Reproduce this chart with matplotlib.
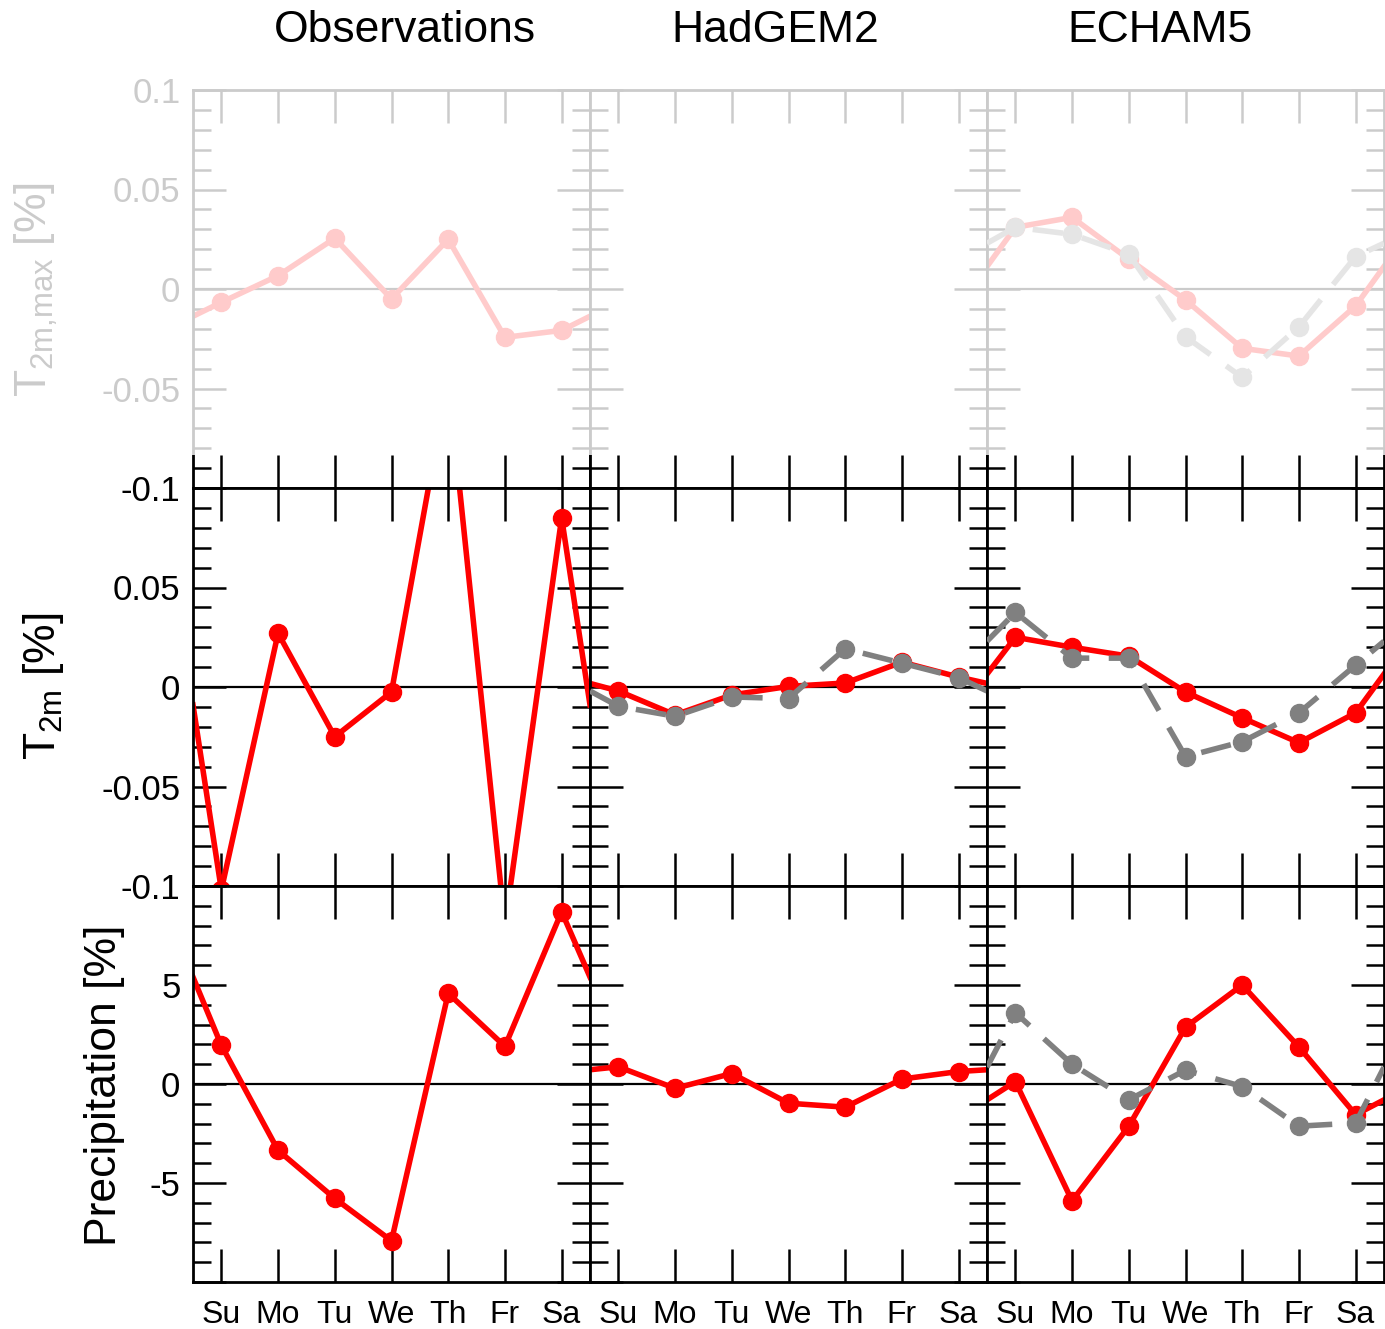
import numpy as np
import matplotlib
matplotlib.use("Agg")
import matplotlib.pyplot as plt
from matplotlib.patches import Rectangle
from matplotlib.ticker import MultipleLocator

plt.rcParams['font.family'] = ['Liberation Sans', 'DejaVu Sans']
plt.rcParams['mathtext.fontset'] = 'custom'
plt.rcParams['mathtext.rm'] = 'Liberation Sans'
plt.rcParams['mathtext.it'] = 'Liberation Sans:italic'

# weekday anomalies, Su..Sa; *_edge = value at the wrap-around (week start / end)
days = ['Su', 'Mo', 'Tu', 'We', 'Th', 'Fr', 'Sa']
columns = ['Observations', 'HadGEM2', 'ECHAM5']

obs_tmax = [-0.0067, 0.0067, 0.0255, -0.005, 0.025, -0.0243, -0.0208]
obs_tmax_edge = -0.0137
ech_tmax = [0.031, 0.036, 0.015, -0.0055, -0.0298, -0.0337, -0.0085]
ech_tmax_edge = 0.0113
ech_tmax_ref = [0.031, 0.0275, 0.0175, -0.024, -0.0444, -0.019, 0.0163]
ech_tmax_ref_edge = 0.023

obs_t2m = [-0.102, 0.027, -0.025, -0.0025, 0.155, -0.12, 0.085]
obs_t2m_edge = -0.009
had_t2m = [-0.002, -0.014, -0.004, 0.0003, 0.002, 0.0125, 0.005]
had_t2m_edge = 0.0018
had_t2m_ref = [-0.0097, -0.0147, -0.005, -0.0058, 0.0192, 0.012, 0.0047]
had_t2m_ref_edge = -0.002
ech_t2m = [0.025, 0.020, 0.0155, -0.0025, -0.0155, -0.028, -0.013]
ech_t2m_edge = 0.0065
ech_t2m_ref = [0.0375, 0.0145, 0.0145, -0.035, -0.0275, -0.013, 0.011]
ech_t2m_ref_edge = 0.023

obs_pr = [1.95, -3.35, -5.78, -7.92, 4.58, 1.9, 8.7]
obs_pr_edge = 5.4
had_pr = [0.87, -0.22, 0.53, -0.97, -1.17, 0.25, 0.63]
had_pr_edge = 0.72
ech_pr = [0.12, -5.9, -2.13, 2.87, 5.0, 1.87, -1.55]
ech_pr_edge = -0.8
ech_pr_ref = [3.6, 1.0, -0.8, 0.7, -0.13, -2.13, -1.97]
ech_pr_ref_edge = 0.85

# (row, col) -> list of (values, edge, is_reference)
panels = {
    (0, 0): [(obs_tmax, obs_tmax_edge, False)],
    (0, 1): [],
    (0, 2): [(ech_tmax, ech_tmax_edge, False), (ech_tmax_ref, ech_tmax_ref_edge, True)],
    (1, 0): [(obs_t2m, obs_t2m_edge, False)],
    (1, 1): [(had_t2m, had_t2m_edge, False), (had_t2m_ref, had_t2m_ref_edge, True)],
    (1, 2): [(ech_t2m, ech_t2m_edge, False), (ech_t2m_ref, ech_t2m_ref_edge, True)],
    (2, 0): [(obs_pr, obs_pr_edge, False)],
    (2, 1): [(had_pr, had_pr_edge, False)],
    (2, 2): [(ech_pr, ech_pr_edge, False), (ech_pr_ref, ech_pr_ref_edge, True)],
}

t_ticks = [-0.1, -0.05, 0, 0.05, 0.1]
p_ticks = [-10, -5, 0, 5, 10]
row_ticks = [t_ticks, t_ticks, p_ticks]
row_ticklabels = [['-0.1', '-0.05', '0', '0.05', '0.1'],
                  ['-0.1', '-0.05', '0', '0.05', ''],
                  ['', '-5', '0', '5', '']]
row_minor = [0.01, 0.01, 1]
row_lim = [(-0.1, 0.1), (-0.1, 0.1), (-10, 10)]

W, H = 1385, 1329
fig = plt.figure(figsize=(W / 100, H / 100), dpi=100)

col_left = [193, 590, 987]
col_w = 397
row_top = [90, 488, 886]
row_h = [398, 398, 396]

xpos = np.arange(7) + 0.5
xfull = np.concatenate([[0], xpos, [7]])

for (r, c), series in panels.items():
    ax = fig.add_axes([col_left[c] / W, 1 - (row_top[r] + row_h[r]) / H,
                       col_w / W, row_h[r] / H])
    ax.set_xlim(0, 7)
    ax.set_ylim(*row_lim[r])
    for sp in ax.spines.values():
        sp.set_linewidth(2)

    if series:
        ax.axhline(0, color='k', lw=1.6, zorder=1)
    for vals, edge, ref in series:
        y = [edge] + list(vals) + [edge]
        if ref:
            ax.plot(xfull, y, color='#808080', lw=4, ls=(0, (5.5, 3.5)),
                    marker='o', ms=13, markevery=list(range(1, 8)), zorder=3)
        else:
            ax.plot(xfull, y, color='#ff0000', lw=4,
                    marker='o', ms=13, markevery=list(range(1, 8)), zorder=2)

    ax.set_xticks(xpos)
    if r == 2:
        ax.set_xticklabels(days)
    else:
        ax.set_xticklabels([])
    ax.tick_params(axis='x', which='major', direction='in', length=24, width=1.8,
                   top=True, bottom=True, labelsize=23, pad=13)

    ax.set_yticks(row_ticks[r])
    ax.yaxis.set_minor_locator(MultipleLocator(row_minor[r]))
    if c == 0:
        ax.set_yticklabels(row_ticklabels[r])
    else:
        ax.set_yticklabels([])
    ax.tick_params(axis='y', which='major', direction='in', length=24, width=1.8,
                   left=True, right=True, labelsize=25, pad=9)
    ax.tick_params(axis='y', which='minor', direction='in', length=13, width=1.8,
                   left=True, right=True)

# column titles
for name, xc in zip(columns, [405, 775, 1160]):
    fig.text(xc / W, 1 - 30 / H, name, fontsize=32, ha='center', va='center')

# row labels
fig.text(36 / W, 1 - 290 / H, r'$\mathregular{T_{2m{,}max}}$ [%]', fontsize=32,
         rotation=90, ha='center', va='center')
fig.text(44 / W, 1 - 686 / H, r'$\mathregular{T_{2m}}$ [%]', fontsize=32,
         rotation=90, ha='center', va='center')
fig.text(105 / W, 1 - 1085 / H, 'Precipitation [%]', fontsize=32,
         rotation=90, ha='center', va='center')

# fade the top row
fig.add_artist(Rectangle((0, 1 - 455 / H), 1, (455 - 62) / H, transform=fig.transFigure,
                         facecolor='white', edgecolor='none', alpha=0.8, zorder=10))

fig.savefig('out.png', dpi=100)
